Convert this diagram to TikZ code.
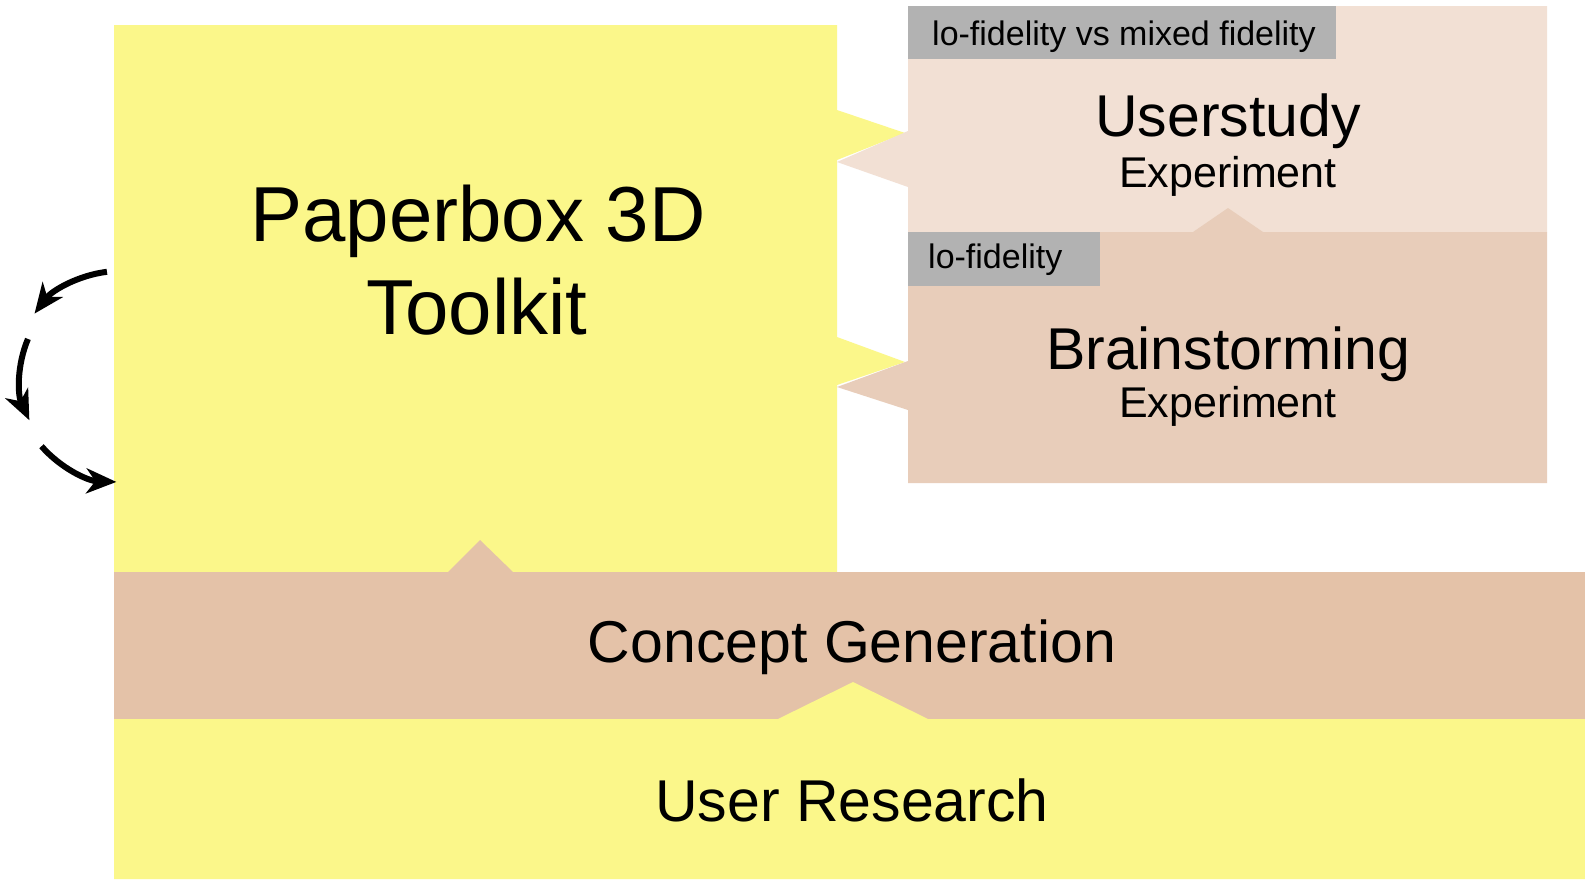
\documentclass[tikz,border=0pt]{standalone}
\usepackage{fontspec}
\setmainfont{Liberation Sans}
\usetikzlibrary{arrows.meta}

\definecolor{toolkitfill}{HTML}{FBF78A}
\definecolor{userfill}{HTML}{F2E0D4}
\definecolor{brainfill}{HTML}{E8CDBA}
\definecolor{conceptfill}{HTML}{E4C2A8}
\definecolor{tagfill}{HTML}{B2B2B2}

\tikzset{
  title/.style={anchor=base, inner sep=0pt, font=\fontsize{59}{66}\selectfont},
  subtitle/.style={anchor=base, inner sep=0pt, font=\fontsize{43}{48}\selectfont},
  tagtext/.style={anchor=base west, inner sep=0pt, font=\fontsize{34}{38}\selectfont},
  cyclearrow/.style={line width=6pt, -{Stealth[length=30pt,width=25pt,inset=9pt]}},
}

\begin{document}
\begin{tikzpicture}[x=1pt,y=1pt]
  \useasboundingbox (0,0) rectangle (1585,-879);
  \fill[white] (0,0) rectangle (1585,-879);

  % toolkit panel with its two callout points to the right
  \fill[toolkitfill] (114,-25) -- (837,-25) -- (837,-110) -- (905,-133) -- (837,-160)
     -- (837,-337) -- (905,-362) -- (837,-385) -- (837,-575) -- (114,-575) -- cycle;

  % user study panel with callout pointing left
  \fill[userfill] (908,-6) -- (1547,-6) -- (1547,-232) -- (908,-232) -- (908,-187)
     -- (837,-162) -- (908,-131) -- cycle;

  % brainstorming panel with a point upwards and a callout pointing left
  \fill[brainfill] (908,-232) -- (1193,-232) -- (1228,-208) -- (1263,-232) -- (1547,-232)
     -- (1547,-483) -- (908,-483) -- (908,-410) -- (837,-387) -- (908,-361) -- cycle;

  % tags
  \fill[tagfill] (908,-6) rectangle (1336,-59);
  \fill[tagfill] (908,-232) rectangle (1100,-286);

  % concept generation band
  \fill[conceptfill] (114,-572) -- (448,-572) -- (480,-540) -- (513,-572) -- (1585,-572)
     -- (1585,-719) -- (114,-719) -- cycle;

  % user research band
  \fill[toolkitfill] (114,-719) -- (778,-719) -- (853,-682) -- (928,-719) -- (1585,-719)
     -- (1585,-879) -- (114,-879) -- cycle;

  % texts
  \node[title, font=\fontsize{78}{90}\selectfont] (tk1) at (478,-241) {Paperbox 3D};
  \node[title, font=\fontsize{78}{90}\selectfont] (tk2) at (477,-334) {Toolkit};

  \node[tagtext] (tag1) at (932,-45) {lo-fidelity vs mixed fidelity};
  \node[title] (us) at (1228,-136) {Userstudy};
  \node[subtitle] (usx) at (1228,-187) {Experiment};

  \node[tagtext] (tag2) at (928,-268) {lo-fidelity};
  \node[title] (bs) at (1228,-369) {Brainstorming};
  \node[subtitle] (bsx) at (1228,-417) {Experiment};

  \node[title] (cg) at (852,-662) {Concept Generation};
  \node[title] (ur) at (852,-821) {User Research};

  % iteration cycle beside the toolkit
  \coordinate (cyc) at (120,-378);
  \draw[cyclearrow] ([shift={(97:107pt)}]cyc) arc[start angle=97, end angle=143, radius=107pt];
  \draw[cyclearrow] ([shift={(157:100pt)}]cyc) arc[start angle=157, end angle=205, radius=100pt];
  \draw[cyclearrow] ([shift={(221:104pt)}]cyc) arc[start angle=221, end angle=268, radius=104pt];
\end{tikzpicture}
\end{document}
